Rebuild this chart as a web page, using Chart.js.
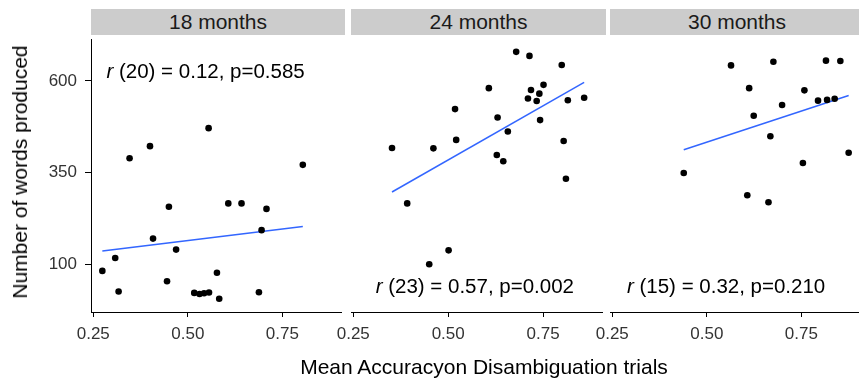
<!DOCTYPE html>
<html lang="en">
<head>
    <meta charset="UTF-8">
    <script src="https://cdn.jsdelivr.net/npm/chart.js"></script>
    <title>Words produced by accuracy</title>
    <style>
        html, body { margin: 0; padding: 0; background: #fff; overflow: hidden; }
        #wrap { position: relative; width: 859px; height: 379px; overflow: hidden; font-family: 'Liberation Sans', Arial, sans-serif; }
        .strip { position: absolute; top: 9px; height: 26px; background: #cccccc; color: #1a1a1a; font-size: 21px; line-height: 26px; text-align: center; }
        canvas { position: absolute; }
        .ytitle { position: absolute; left: 20px; top: 172px; transform: translate(-50%, -50%) rotate(-90deg); white-space: nowrap; font-size: 21px; color: #000; }
        .xtitle { position: absolute; left: 484px; top: 367px; transform: translate(-50%, -50%); white-space: nowrap; font-size: 21px; color: #000; }
    </style>
</head>
<body>
<div id="wrap">
    <div class="strip" style="left:91px;width:254px">18 months</div>
    <div class="strip" style="left:351px;width:255px">24 months</div>
    <div class="strip" style="left:610px;width:254px">30 months</div>
    <canvas id="c18" width="345" height="321" style="left:0;top:35px"></canvas>
    <canvas id="c24" width="285" height="321" style="left:321px;top:35px"></canvas>
    <canvas id="c30" width="284" height="321" style="left:580px;top:35px"></canvas>
    <div class="ytitle">Number of words produced</div>
    <div class="xtitle">Mean Accuracyon Disambiguation trials</div>
</div>

<script>
// values
var xTicks = [0.25, 0.50, 0.75];
var yTicks = [100, 350, 600];

var x18 = [0.346,0.400,0.555,0.804,0.450,0.607,0.642,0.708,0.695,0.408,0.469,0.308,0.274,0.577,0.445,0.317,0.517,0.531,0.543,0.556,0.583,0.688];
var y18 = [389,422,471,371,257,266,266,251,193,170,140,117,82,77,54,26,22,19,21,23,6,24];

var x24 = [0.679,0.714,0.799,0.751,0.607,0.718,0.740,0.710,0.733,0.815,0.858,0.518,0.630,0.742,0.657,0.521,0.804,0.352,0.461,0.628,0.645,0.810,0.392,0.501,0.450];
var y24 = [679,668,643,589,580,575,565,552,545,547,554,523,500,493,462,439,436,417,416,398,381,333,266,138,100];

var x30 = [0.564,0.676,0.815,0.853,0.612,0.758,0.794,0.818,0.838,0.699,0.624,0.668,0.875,0.754,0.439,0.607,0.663];
var y30 = [642,652,655,654,580,574,546,548,551,534,505,449,404,376,349,288,269];

// fitted lm line ends
var fit18x = [0.274, 0.804], fit18y = [136, 203];
var fit24x = [0.352, 0.858], fit24y = [297, 596];
var fit30x = [0.439, 0.875], fit30y = [412, 560];

// correlation labels: rest of text after italic r, position in data units
var note18 = ' (20) = 0.12, p=0.585', note18x = 0.547, note18y = 623;
var note24 = ' (23) = 0.57, p=0.002', note24x = 0.570, note24y = 36;
var note30 = ' (15) = 0.32, p=0.210', note30x = 0.551, note30y = 36;

var FONT = "'Liberation Sans', Arial, sans-serif";

function pts(xs, ys) {
    var out = [];
    for (var i = 0; i < xs.length; i++) out.push({x: xs[i], y: ys[i]});
    return out;
}

var notePlugin = {
    id: 'note',
    afterDatasetsDraw: function (chart, args, opts) {
        var ctx = chart.ctx;
        var cx = chart.scales.x.getPixelForValue(opts.x);
        var cy = chart.scales.y.getPixelForValue(opts.y);
        ctx.save();
        ctx.fillStyle = '#000';
        ctx.textBaseline = 'middle';
        ctx.textAlign = 'left';
        ctx.font = 'italic 20.5px ' + FONT;
        var wr = ctx.measureText('r').width;
        ctx.font = '20.5px ' + FONT;
        var wt = ctx.measureText(opts.text).width;
        var left = cx - (wr + wt) / 2;
        ctx.font = 'italic 20.5px ' + FONT;
        ctx.fillText('r', left, cy);
        ctx.font = '20.5px ' + FONT;
        ctx.fillText(opts.text, left + wr, cy);
        ctx.restore();
    }
};

function makePanel(id, xs, ys, fx, fy, text, nx, ny, showY, padLeft) {
    new Chart(document.getElementById(id), {
        type: 'scatter',
        data: {
            datasets: [
                {
                    data: pts(xs, ys),
                    backgroundColor: '#000',
                    borderWidth: 0,
                    pointRadius: 3.3
                },
                {
                    type: 'line',
                    data: pts(fx, fy),
                    borderColor: '#3366FF',
                    borderWidth: 1.5,
                    pointRadius: 0,
                    fill: false
                }
            ]
        },
        options: {
            responsive: false,
            animation: false,
            events: [],
            layout: { padding: { left: padLeft, right: 0, top: 0, bottom: 0 } },
            plugins: {
                legend: { display: false },
                tooltip: { enabled: false },
                note: { text: text, x: nx, y: ny }
            },
            scales: {
                x: {
                    type: 'linear',
                    min: 0.244,
                    max: 0.905,
                    afterBuildTicks: function (s) { s.ticks = xTicks.map(function (v) { return {value: v}; }); },
                    afterFit: function (s) { s.height = 44; s.paddingLeft = 0; s.paddingRight = 0; },
                    ticks: {
                        callback: function (v) { return v.toFixed(2); },
                        font: { size: 17, family: FONT },
                        color: '#333',
                        padding: 7,
                        maxRotation: 0,
                        autoSkip: false
                    },
                    grid: { display: true, drawOnChartArea: false, drawTicks: true, tickLength: 5, tickColor: '#000' },
                    border: { display: true, color: '#000', width: 1 }
                },
                y: {
                    type: 'linear',
                    display: showY,
                    min: -30,
                    max: 714,
                    afterBuildTicks: function (s) { s.ticks = yTicks.map(function (v) { return {value: v}; }); },
                    afterFit: function (s) { s.width = showY ? 91 : 0; s.paddingTop = 0; s.paddingBottom = 0; },
                    ticks: {
                        font: { size: 17, family: FONT },
                        color: '#333',
                        padding: 8
                    },
                    grid: { display: true, drawOnChartArea: false, drawTicks: true, tickLength: 6, tickColor: '#000' },
                    border: { display: true, color: '#000', width: 1 }
                }
            }
        },
        plugins: [notePlugin]
    });
}

makePanel('c18', x18, y18, fit18x, fit18y, note18, note18x, note18y, true, 0);
makePanel('c24', x24, y24, fit24x, fit24y, note24, note24x, note24y, false, 30);
makePanel('c30', x30, y30, fit30x, fit30y, note30, note30x, note30y, false, 30);
</script>
</body>
</html>
